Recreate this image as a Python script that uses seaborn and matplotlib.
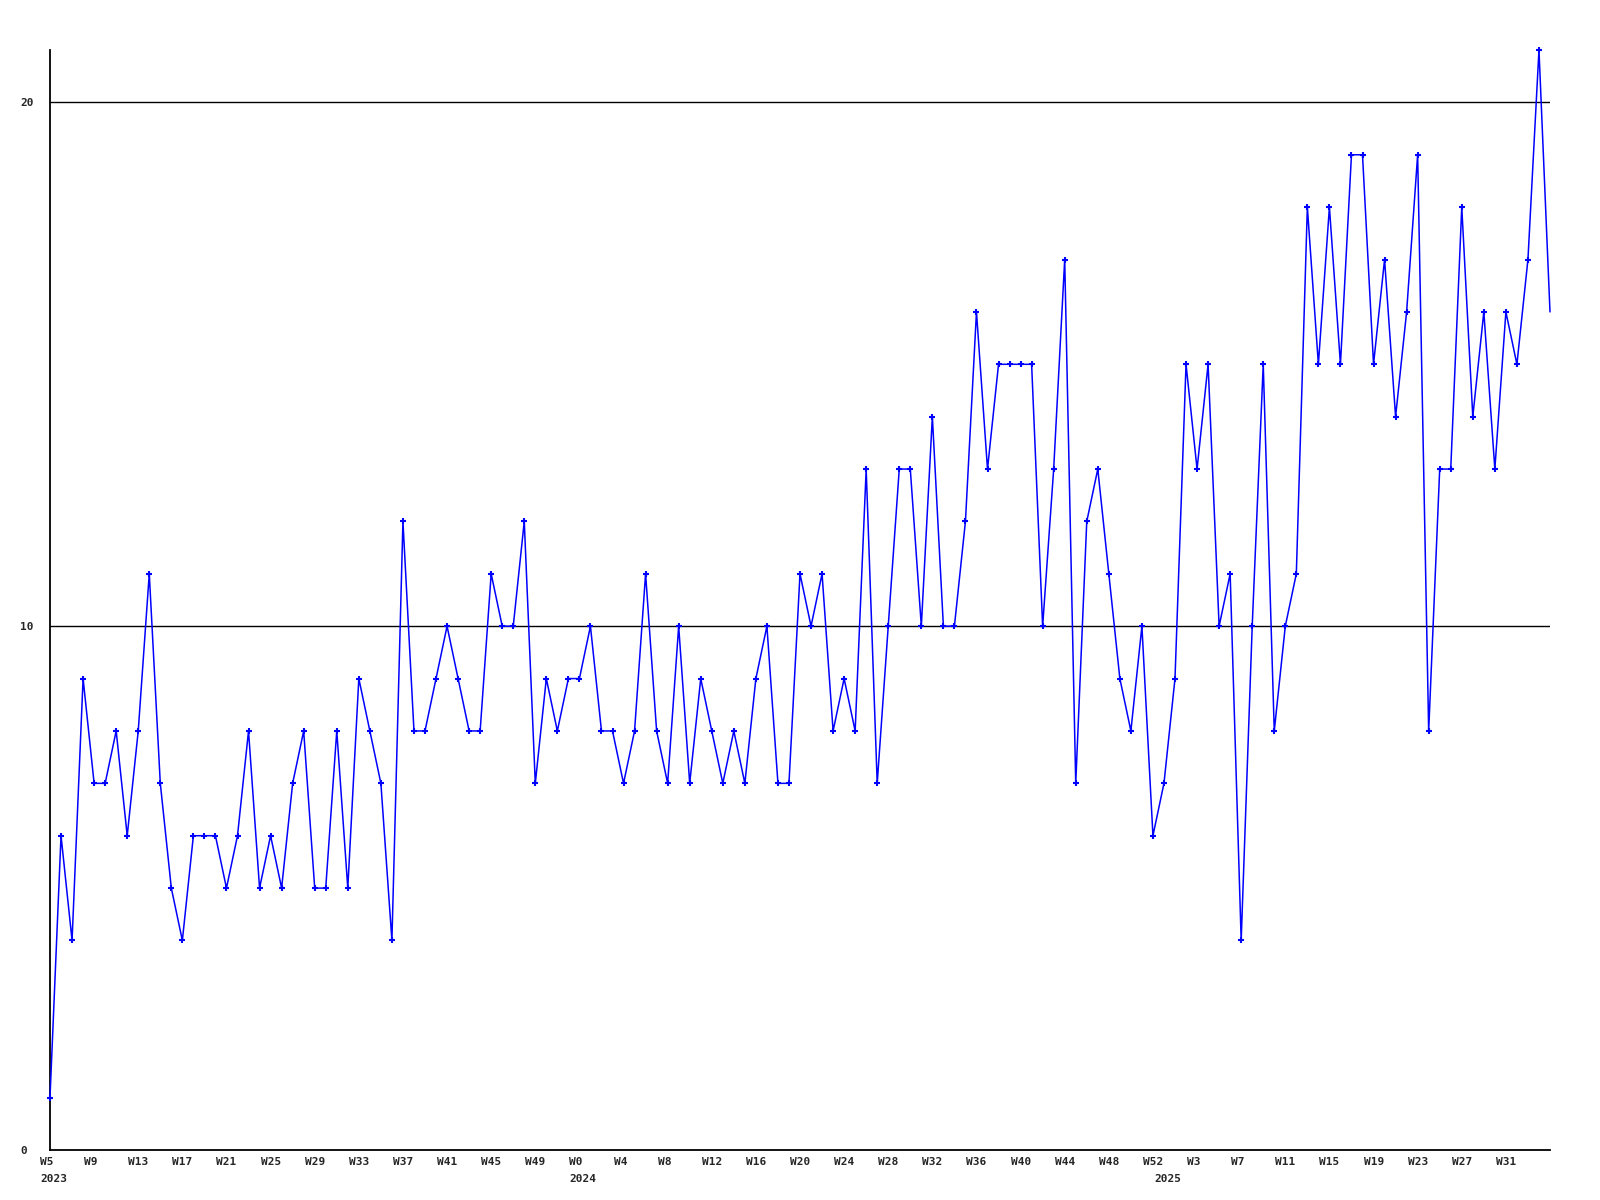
import matplotlib
matplotlib.use('Agg')
import matplotlib.pyplot as plt
from matplotlib.transforms import ScaledTranslation
import seaborn as sns
import pandas as pd

# weekly counts, 2023 W5 .. 2025 W35
counts = [1, 6, 4, 9, 7, 7, 8, 6, 8, 11, 7, 5, 4, 6, 6, 6, 5, 6, 8, 5,
          6, 5, 7, 8, 5, 5, 8, 5, 9, 8, 7, 4, 12, 8, 8, 9, 10, 9, 8, 8,
          11, 10, 10, 12, 7, 9, 8, 9, 9, 10, 8, 8, 7, 8, 11, 8, 7, 10, 7, 9,
          8, 7, 8, 7, 9, 10, 7, 7, 11, 10, 11, 8, 9, 8, 13, 7, 10, 13, 13, 10,
          14, 10, 10, 12, 16, 13, 15, 15, 15, 15, 10, 13, 17, 7, 12, 13, 11, 9, 8, 10,
          6, 7, 9, 15, 13, 15, 10, 11, 4, 10, 15, 8, 10, 11, 18, 15, 18, 15, 19, 19,
          15, 17, 14, 16, 19, 8, 13, 13, 18, 14, 16, 13, 16, 15, 17, 21, 16]

years = [2023, 2024, 2025]
first_week = [5, 0, 0]
last_week = [52, 52, 35]

y_ticks = [0, 10, 20]

rows = []
for yr, w0, w1 in zip(years, first_week, last_week):
    for w in range(w0, w1 + 1):
        rows.append((yr, w))
df = pd.DataFrame(rows, columns=['year', 'week'])
df['pos'] = range(len(df))
df['count'] = counts

sns.set_style('white')
plt.rcParams['font.family'] = ['DejaVu Sans Mono']

fig = plt.figure(figsize=(16, 12), dpi=100)
ax = fig.add_axes([50 / 1600, 1 - 1150 / 1200, 1500 / 1600, 1100 / 1200])

for v in y_ticks[1:]:
    ax.axhline(v, color='black', lw=1, zorder=1)

# last point has no marker in the original
sns.lineplot(data=df, x='pos', y='count', ax=ax, color='#0000ff', lw=1.1,
             marker='+', markersize=4, markeredgecolor='#0000ff',
             markeredgewidth=1.5, markevery=list(range(len(df) - 1)),
             zorder=3, clip_on=False)

ax.set_xlim(0, len(df) - 1)
ax.set_ylim(0, 21)

for s in ['top', 'right']:
    ax.spines[s].set_visible(False)
for s in ['left', 'bottom']:
    ax.spines[s].set_color('black')
    ax.spines[s].set_linewidth(1.3)

# x ticks every 4 weeks (no label at the right edge), label starts 10 px before the point
tick_df = df.iloc[:-1:4]
ax.set_xticks(tick_df['pos'])
ax.set_xticklabels(['W%d' % w for w in tick_df['week']], fontsize=8, fontweight='bold')
ax.tick_params(axis='x', length=0, pad=5)
shift = ScaledTranslation(-10 / 100, 0, fig.dpi_scale_trans)
for lab in ax.get_xticklabels():
    lab.set_ha('left')
    lab.set_transform(lab.get_transform() + shift)

# year labels under the first week of each year
for yr in years:
    p = df.loc[df['year'] == yr, 'pos'].iloc[0]
    ax.annotate(str(yr), xy=(p, 0), xycoords=('data', 'axes fraction'),
                xytext=(-7.2, -17), textcoords='offset points',
                ha='left', va='top', fontsize=8, fontweight='bold')

ax.set_yticks(y_ticks)
ax.set_yticklabels([str(v) for v in y_ticks], fontsize=8, fontweight='bold', ha='left')
ax.tick_params(axis='y', length=0, pad=21.6)

ax.set_xlabel('')
ax.set_ylabel('')
ax.grid(False)

fig.savefig('out.png', dpi=100, facecolor='white')
